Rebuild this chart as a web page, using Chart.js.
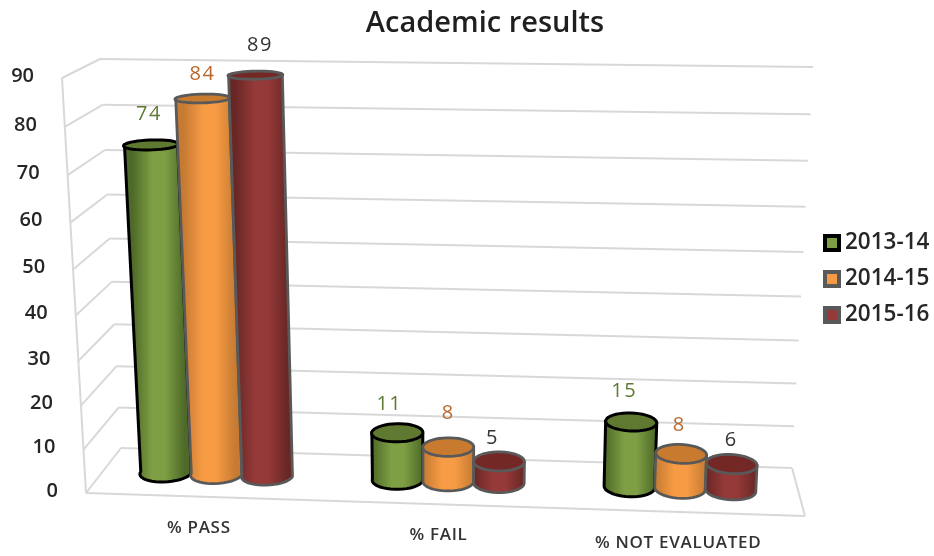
<!DOCTYPE html>
<html lang="en">
<head>
    <meta charset="UTF-8">
    <title>Academic results</title>
    <script src="https://cdn.jsdelivr.net/npm/chart.js@4"></script>
    <style>
        html, body { margin: 0; padding: 0; background: #fff; }
        #wrap { width: 934px; height: 556px; }
        #chart { filter: blur(0.4px); }
    </style>
</head>
<body>
    <div id="wrap"><canvas id="chart"></canvas></div>
    <script>
        var categories = ['% PASS', '% FAIL', '% NOT EVALUATED'];
        var years = ['2013-14', '2014-15', '2015-16'];
        var values2013 = [74, 11, 15];
        var values2014 = [84, 8, 8];
        var values2015 = [89, 5, 6];
        var yTickStep = 10;
        var yMax = 90;

        // colours per series
        var fills = ['#7f9f45', '#f79c45', '#963a39'];
        var edges = ['#4e6a28', '#c67a32', '#682725'];
        var caps = ['#5f7a30', '#c87b2f', '#742826'];
        var outlines = ['#000000', '#595959', '#595959'];
        var labelColors = ['#5f7a33', '#b8672a', '#333333'];

        // the value labels were placed by hand in the original, series by category
        var labelShiftX = [[-2, -8, -7], [0, 0, -2], [4.5, -6.5, -0.5]];
        var labelShiftY = [[-31, -28, -31], [-24, -34, -29], [-30, -23, -24]];

        // the view: where the corners of the plot box land on the page
        var floorFL = [86, 493], floorFR = [805, 516], floorBL = [121, 448], floorBR = [792, 468];
        var topFL = [62, 78], topFR = [829, 86], topBL = [100, 59], topBR = [813, 67];
        var warp = -0.068;
        var depthRadius = 0.21;
        var barNudge = -3.5;
        var uiFont = '"Open Sans", sans-serif';

        function mix(a, b, t) {
            return [a[0] + (b[0] - a[0]) * t, a[1] + (b[1] - a[1]) * t];
        }

        // u across, v up, d from front (0) to back (1)
        function project(u, v, d) {
            var h = v + warp * v * (1 - v);
            var low = mix(mix(floorFL, floorFR, u), mix(floorBL, floorBR, u), d);
            var high = mix(mix(topFL, topFR, u), mix(topBL, topBR, u), d);
            return mix(low, high, h);
        }

        function line(ctx, a, b) {
            ctx.beginPath();
            ctx.moveTo(a[0], a[1]);
            ctx.lineTo(b[0], b[1]);
            ctx.stroke();
        }

        function drawBox(chart) {
            var ctx = chart.ctx;
            var area = chart.chartArea;
            var yScale = chart.scales.y;
            var xScale = chart.scales.x;
            ctx.save();
            ctx.strokeStyle = '#d8d8d8';
            ctx.lineWidth = 2;
            ctx.font = '600 20px ' + uiFont;
            ctx.fillStyle = '#262626';
            ctx.textAlign = 'right';
            ctx.textBaseline = 'middle';
            yScale.ticks.forEach(function(tick) {
                var v = (area.bottom - yScale.getPixelForValue(tick.value)) / area.height;
                line(ctx, project(0, v, 0), project(0, v, 1));
                line(ctx, project(0, v, 1), project(1, v, 1));
                var p = project(0, v, 0);
                ctx.fillText(String(tick.value), p[0] - 28, p[1] - 2);
            });
            line(ctx, project(0, 0, 0), project(0, 1, 0));
            line(ctx, project(0, 0, 0), project(1, 0, 0));
            line(ctx, project(1, 0, 0), project(1, 0, 1));

            // category names follow the slant of the floor
            ctx.font = '600 17px ' + uiFont;
            ctx.letterSpacing = '0.7px';
            ctx.fillStyle = '#333333';
            ctx.textAlign = 'center';
            categories.forEach(function(name, i) {
                var u = (xScale.getPixelForTick(i) - area.left) / area.width;
                var p = project(u, 0, 0);
                ctx.fillText(name, p[0] - 7, p[1] + 31);
            });
            ctx.restore();
        }

        function ring(u, r, v) {
            var pts = [];
            for (var i = 0; i <= 40; i++) {
                var t = -Math.PI * i / 20;
                pts.push(project(u + r * Math.cos(t), v, 0.5 + depthRadius * Math.sin(t)));
            }
            return pts;
        }

        function tracePts(ctx, pts) {
            pts.forEach(function(p) { ctx.lineTo(p[0], p[1]); });
        }

        function drawCylinder(chart, el, s) {
            var ctx = chart.ctx;
            var area = chart.chartArea;
            var u = (el.x + barNudge - area.left) / area.width;
            var r = el.width / 2 / area.width;
            var v = (area.bottom - el.y) / area.height;
            var topRing = ring(u, r, v);
            var baseRing = ring(u, r, 0);
            var xLeft = (topRing[20][0] + baseRing[20][0]) / 2;
            var xRight = (topRing[0][0] + baseRing[0][0]) / 2;

            var g = ctx.createLinearGradient(xLeft, 0, xRight, 0);
            g.addColorStop(0, edges[s]);
            g.addColorStop(0.38, fills[s]);
            g.addColorStop(0.62, fills[s]);
            g.addColorStop(1, edges[s]);

            ctx.save();
            ctx.lineJoin = 'round';
            ctx.strokeStyle = outlines[s];
            ctx.lineWidth = s === 0 ? 3 : 2.8;

            // side wall, front half of the base
            ctx.beginPath();
            ctx.moveTo(topRing[0][0], topRing[0][1]);
            tracePts(ctx, baseRing.slice(0, 21));
            tracePts(ctx, [topRing[20]]);
            ctx.closePath();
            ctx.fillStyle = g;
            ctx.fill();
            ctx.stroke();

            // cap
            ctx.beginPath();
            ctx.moveTo(topRing[0][0], topRing[0][1]);
            tracePts(ctx, topRing);
            ctx.closePath();
            ctx.fillStyle = caps[s];
            ctx.fill();
            ctx.stroke();
            ctx.restore();
        }

        function drawValue(chart, el, s, i, value) {
            var ctx = chart.ctx;
            var area = chart.chartArea;
            var p = project((el.x + barNudge - area.left) / area.width, (area.bottom - el.y) / area.height, 0.5);
            ctx.save();
            ctx.font = '400 20px ' + uiFont;
            ctx.letterSpacing = '1.5px';
            ctx.fillStyle = labelColors[s];
            ctx.textAlign = 'center';
            ctx.textBaseline = 'middle';
            ctx.fillText(String(value), p[0] + labelShiftX[s][i], p[1] + labelShiftY[s][i]);
            ctx.restore();
        }

        function drawLegend(chart) {
            var ctx = chart.ctx;
            ctx.save();
            ctx.font = '600 22.5px ' + uiFont;
            ctx.textBaseline = 'middle';
            chart.data.datasets.forEach(function(ds, s) {
                var y = 243 + s * 36;
                ctx.fillStyle = ds.backgroundColor;
                ctx.strokeStyle = ds.borderColor;
                ctx.lineWidth = 4;
                ctx.fillRect(825, y - 7, 14, 14);
                ctx.strokeRect(825, y - 7, 14, 14);
                ctx.fillStyle = '#262626';
                ctx.fillText(ds.label, 845, y);
            });
            ctx.restore();
        }

        var cylinders = {
            id: 'cylinders',
            beforeDatasetsDraw: function(chart) {
                drawBox(chart);
            },
            beforeDatasetDraw: function() {
                return false; // bars are replaced by the cylinders below
            },
            afterDatasetsDraw: function(chart) {
                chart.data.datasets.forEach(function(ds, s) {
                    chart.getDatasetMeta(s).data.forEach(function(el) {
                        drawCylinder(chart, el, s);
                    });
                });
                chart.data.datasets.forEach(function(ds, s) {
                    chart.getDatasetMeta(s).data.forEach(function(el, i) {
                        drawValue(chart, el, s, i, ds.data[i]);
                    });
                });
                drawLegend(chart);
            }
        };

        var seriesValues = [values2013, values2014, values2015];

        new Chart(document.getElementById('chart').getContext('2d'), {
            type: 'bar',
            data: {
                labels: categories,
                datasets: years.map(function(year, s) {
                    return {
                        label: year,
                        data: seriesValues[s],
                        backgroundColor: fills[s],
                        borderColor: outlines[s],
                        categoryPercentage: 0.655,
                        barPercentage: 1
                    };
                })
            },
            options: {
                responsive: true,
                maintainAspectRatio: false,
                animation: false,
                layout: { padding: { left: 36 } },
                plugins: {
                    legend: { display: false },
                    tooltip: { enabled: false },
                    title: {
                        display: true,
                        text: 'Academic results',
                        color: '#1f1f1f',
                        font: { family: '"Open Sans", sans-serif', size: 29, weight: '600' },
                        padding: { top: 6, bottom: 10 }
                    }
                },
                scales: {
                    x: { display: false },
                    y: { display: false, min: 0, max: yMax, ticks: { stepSize: yTickStep } }
                }
            },
            plugins: [cylinders]
        });
    </script>
</body>
</html>
